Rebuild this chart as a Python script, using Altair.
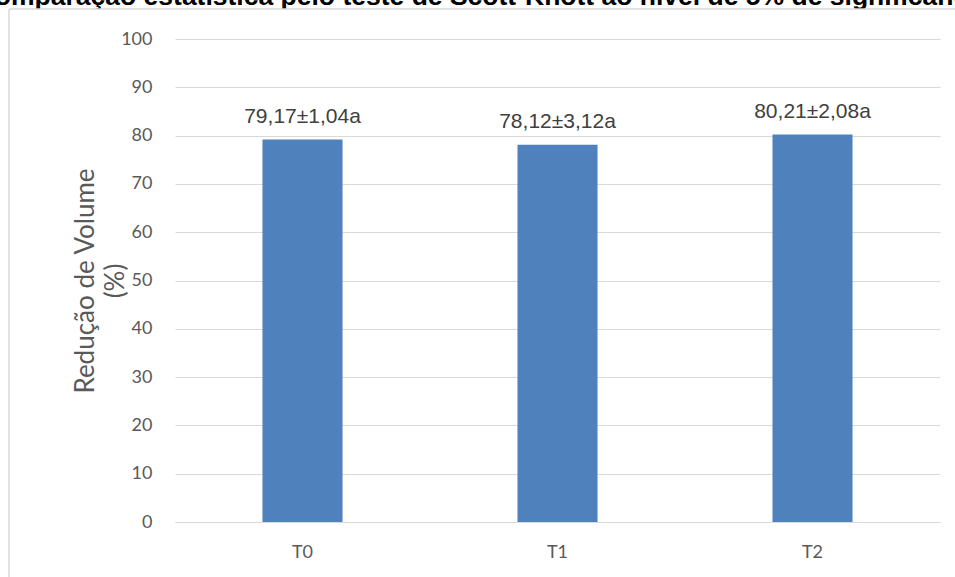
import altair as alt
import pandas as pd

# Treatments, means, standard deviations and Scott-Knott groups
categories = ["T0", "T1", "T2"]
means = [79.17, 78.12, 80.21]
sds = [1.04, 3.12, 2.08]
groups = ["a", "a", "a"]
y_ticks = [0, 10, 20, 30, 40, 50, 60, 70, 80, 90, 100]
y_title = ["Redução de Volume", "(%)"]
heading = "Comparação estatística pelo teste de Scott-Knott ao nível de 5% de significância"


def br(v):
    return f"{v:.2f}".replace(".", ",")


labels = [f"{br(m)}±{br(s)}{g}" for m, s, g in zip(means, sds, groups)]
df = pd.DataFrame({"trat": categories, "media": means, "rotulo": labels})

GREY_TXT = "#595959"
GRID = "#d9d9d9"
BAR = "#4f81bd"

x_enc = alt.X(
    "trat:N",
    sort=categories,
    scale=alt.Scale(paddingInner=0.686, paddingOuter=0.343),
    axis=alt.Axis(
        title=None, labelAngle=0, labelFont="Lato", labelFontSize=18,
        labelColor=GREY_TXT, labelPadding=21, ticks=False, grid=False,
        domainColor=GRID, domainWidth=1,
    ),
)
y_enc = alt.Y(
    "media:Q",
    scale=alt.Scale(domain=[0, 100], nice=False),
    axis=alt.Axis(
        values=y_ticks, title=y_title, titleFont="Lato", titleFontSize=26,
        titleFontWeight="normal", titleColor=GREY_TXT, titlePadding=-8,
        titleLineHeight=30,
        labelFont="Lato", labelFontSize=18, labelColor=GREY_TXT,
        labelPadding=23, ticks=False, domain=False,
        grid=True, gridColor=GRID, gridWidth=1,
    ),
)

bars = alt.Chart(df).mark_bar(color=BAR).encode(x=x_enc, y=y_enc)

values = alt.Chart(df).mark_text(
    font="Liberation Sans", fontSize=21, color="#404040",
    baseline="alphabetic", dy=-16.5,
).encode(x=alt.X("trat:N", sort=categories), y="media:Q", text="rotulo:N")

one = pd.DataFrame({"t": [heading]})

head = alt.Chart(one).mark_text(
    font="Liberation Sans", fontSize=26.5, fontWeight="bold", color="#000000",
    align="center", baseline="alphabetic",
).encode(x=alt.value(308), y=alt.value(-34), text="t:N")

# white chart-area strip that hides the heading's descenders
panel = alt.Chart(one).mark_rect(color="white").encode(
    x=alt.value(-166), x2=alt.value(800), y=alt.value(-30), y2=alt.value(-20)
)

edge_left = alt.Chart(one).mark_rule(color=GRID, strokeWidth=1.5).encode(
    x=alt.value(-166), y=alt.value(-30), y2=alt.value(600)
)
edge_top = alt.Chart(one).mark_rule(color=GRID, strokeWidth=1.5).encode(
    x=alt.value(-166), x2=alt.value(800), y=alt.value(-30)
)

chart = (
    alt.layer(head, panel, edge_left, edge_top, bars, values,
              view=alt.ViewBackground(stroke="transparent", strokeWidth=0))
    .properties(
        width=765, height=483,
        autosize=alt.AutoSizeParams(type="none"),
        padding={"left": 175, "top": 39, "right": 15, "bottom": 55},
    )
    .configure_view(strokeWidth=0, stroke="transparent")
    .configure(background="white")
)

chart.save("out.html", embed_options={"renderer": "svg", "actions": False})
